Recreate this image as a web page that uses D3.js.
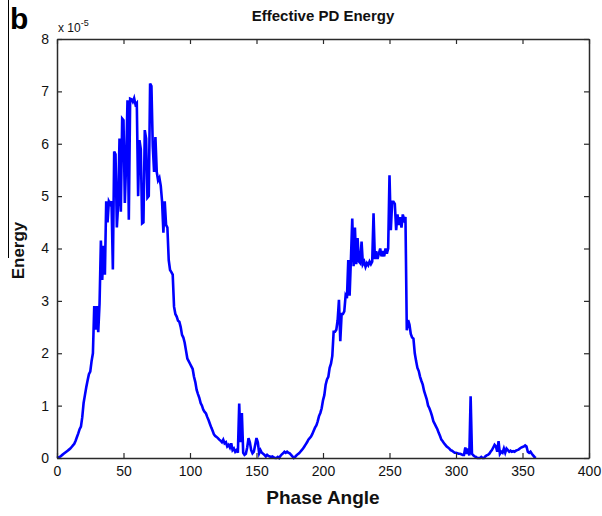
<!DOCTYPE html>
<html><head><meta charset="utf-8">
<script src="https://cdn.jsdelivr.net/npm/d3@7"></script>
<style>body{margin:0;background:#fff}svg{display:block}text{font-family:"Liberation Sans",Arial,sans-serif}</style>
</head><body>
<script>
const phaseAngles = d3.range(0, 361);
const energyValues = [
0,0.01,0.02,0.04,0.06,0.08,0.1,0.12,0.14,0.16,
0.18,0.21,0.24,0.27,0.33,0.4,0.47,0.55,0.6,0.78,
1.05,1.2,1.35,1.48,1.6,1.65,1.85,2.0,2.9,2.45,
2.9,2.4,2.95,4.15,3.4,4.05,3.5,4.9,4.5,4.9,
4.85,4.9,3.6,5.85,5.8,4.4,4.85,6.1,4.7,6.48,
6.45,4.87,5.65,6.83,4.55,6.86,6.85,6.8,6.87,6.75,
6.78,5.0,6.07,5.9,4.48,4.5,6.26,6.1,4.97,5.0,
7.15,7.1,5.96,5.46,6.13,5.46,5.3,5.35,5.2,4.9,
4.3,4.9,4.45,4.4,3.78,3.59,3.55,3.5,2.89,2.75,
2.7,2.62,2.6,2.5,2.35,2.3,2.2,2.05,1.9,1.85,
1.8,1.75,1.7,1.55,1.45,1.3,1.22,1.15,1.05,1.0,
0.92,0.88,0.85,0.78,0.72,0.65,0.58,0.52,0.45,0.42,
0.4,0.38,0.35,0.33,0.3,0.35,0.28,0.3,0.22,0.25,
0.2,0.28,0.15,0.18,0.12,0.15,0.1,1.04,0.3,0.86,
0.1,0.06,0.08,0.2,0.38,0.3,0.15,0.09,0.12,0.25,
0.38,0.3,0.09,0.15,0.1,0.08,0.06,0.03,0.06,0.04,
0.03,0.02,0.03,0.01,0,0,0.02,0,0.04,0.07,
0.09,0.12,0.1,0.12,0.1,0.09,0.06,0.03,0,0.02,
0.05,0.07,0.09,0.12,0.15,0.18,0.22,0.26,0.3,0.35,
0.38,0.41,0.46,0.52,0.58,0.62,0.7,0.8,0.86,0.95,
1.1,1.2,1.4,1.5,1.55,1.72,1.8,1.95,2.41,2.41,
2.45,2.63,3.02,2.23,2.75,2.75,2.8,3.1,3.05,3.78,
3.1,3.8,4.57,3.66,4.4,3.7,4.2,3.75,3.72,4.13,
3.7,3.75,3.65,3.72,3.68,3.75,3.7,3.75,4.67,3.8,
3.95,3.8,3.9,4.0,3.85,3.95,3.85,4.0,3.9,4.0,
5.4,4.35,4.89,4.89,4.85,4.35,4.65,4.45,4.6,4.4,
4.65,4.55,4.6,2.44,2.63,2.55,2.37,2.3,2.28,2.0,
1.85,1.72,1.66,1.55,1.47,1.4,1.28,1.2,1.12,1.0,
0.95,0.88,0.8,0.7,0.65,0.6,0.55,0.48,0.42,0.35,
0.32,0.28,0.25,0.22,0.2,0.18,0.15,0.14,0.12,0.1,
0.1,0.09,0.08,0.08,0.07,0.06,0.06,0.2,0.08,0.18,
0.05,1.18,0.08,0.05,0.03,0.02,0,0,0,0.02,
0,0,0.03,0.05,0.06,0.08,0.12,0.15,0.2,0.25,
0.22,0.12,0.32,0.08,0.12,0.1,0.18,0.1,0.18,0.15,
0.12,0.14,0.12,0.13,0.12,0.14,0.15,0.16,0.18,0.2,
0.21,0.22,0.24,0.22,0.12,0.1,0.12,0.08,0.05,0.02,
0
];
const xTicks = [0,50,100,150,200,250,300,350,400];
const yTicks = [0,1,2,3,4,5,6,7,8];
const titleText = "Effective PD Energy";
const xLabel = "Phase Angle";
const yLabel = "Energy";
const panelLabel = "b";

const W = 602, H = 516;
const m = {l:57, r:589, t:39, b:458};
const svg = d3.select("body").append("svg").attr("width",W).attr("height",H);
const x = d3.scaleLinear().domain([0,400]).range([m.l,m.r]);
const y = d3.scaleLinear().domain([0,8]).range([m.b,m.t]);

// panel decoration
svg.append("line").attr("x1",8.5).attr("x2",8.5).attr("y1",0).attr("y2",258).attr("stroke","#000").attr("stroke-width",1);
svg.append("text").attr("x",10).attr("y",29).attr("font-size",30).attr("font-weight","bold").text(panelLabel);

// data line
const data = phaseAngles.map((d,i)=>({x:d,y:energyValues[i]}));
svg.append("path").datum(data)
  .attr("fill","none").attr("stroke","#0000ff").attr("stroke-width",2.6).attr("stroke-linejoin","miter")
  .attr("d", d3.line().x(d=>x(d.x)).y(d=>y(d.y)));

// axes
const ax = "#2a2a2a";
const gBottom = svg.append("g").attr("transform",`translate(0,${m.b})`).call(d3.axisBottom(x).tickValues(xTicks).tickSizeInner(-5).tickSizeOuter(0).tickPadding(8));
const gTop = svg.append("g").attr("transform",`translate(0,${m.t})`).call(d3.axisTop(x).tickValues(xTicks).tickSizeInner(-5).tickSizeOuter(0).tickFormat(""));
const gLeft = svg.append("g").attr("transform",`translate(${m.l},0)`).call(d3.axisLeft(y).tickValues(yTicks).tickSizeInner(-5).tickSizeOuter(0).tickPadding(8));
const gRight = svg.append("g").attr("transform",`translate(${m.r},0)`).call(d3.axisRight(y).tickValues(yTicks).tickSizeInner(-5).tickSizeOuter(0).tickFormat(""));
[gBottom,gTop,gLeft,gRight].forEach(g=>{
  g.select(".domain").attr("stroke",ax).attr("stroke-width",1.5);
  g.selectAll(".tick line").attr("stroke",ax).attr("stroke-width",1.2);
  g.selectAll("text").attr("font-family","Liberation Sans, Arial, sans-serif").attr("font-size",14).attr("fill","#111");
});

// exponent
const ex = svg.append("text").attr("x",58).attr("y",32).attr("font-size",12).attr("fill","#111");
ex.append("tspan").text("x 10");
ex.append("tspan").attr("font-size",9).attr("dy",-6).text("-5");

// title & labels
svg.append("text").attr("x",(m.l+m.r)/2).attr("y",21).attr("text-anchor","middle").attr("font-size",15).attr("font-weight","bold").attr("fill","#111").text(titleText);
svg.append("text").attr("x",(m.l+m.r)/2).attr("y",504).attr("text-anchor","middle").attr("font-size",19).attr("font-weight","bold").attr("fill","#111").text(xLabel);
svg.append("text").attr("transform",`translate(24,${(m.t+m.b)/2+2}) rotate(-90)`).attr("text-anchor","middle").attr("font-size",17).attr("font-weight","bold").attr("fill","#111").text(yLabel);
</script>
</body></html>
